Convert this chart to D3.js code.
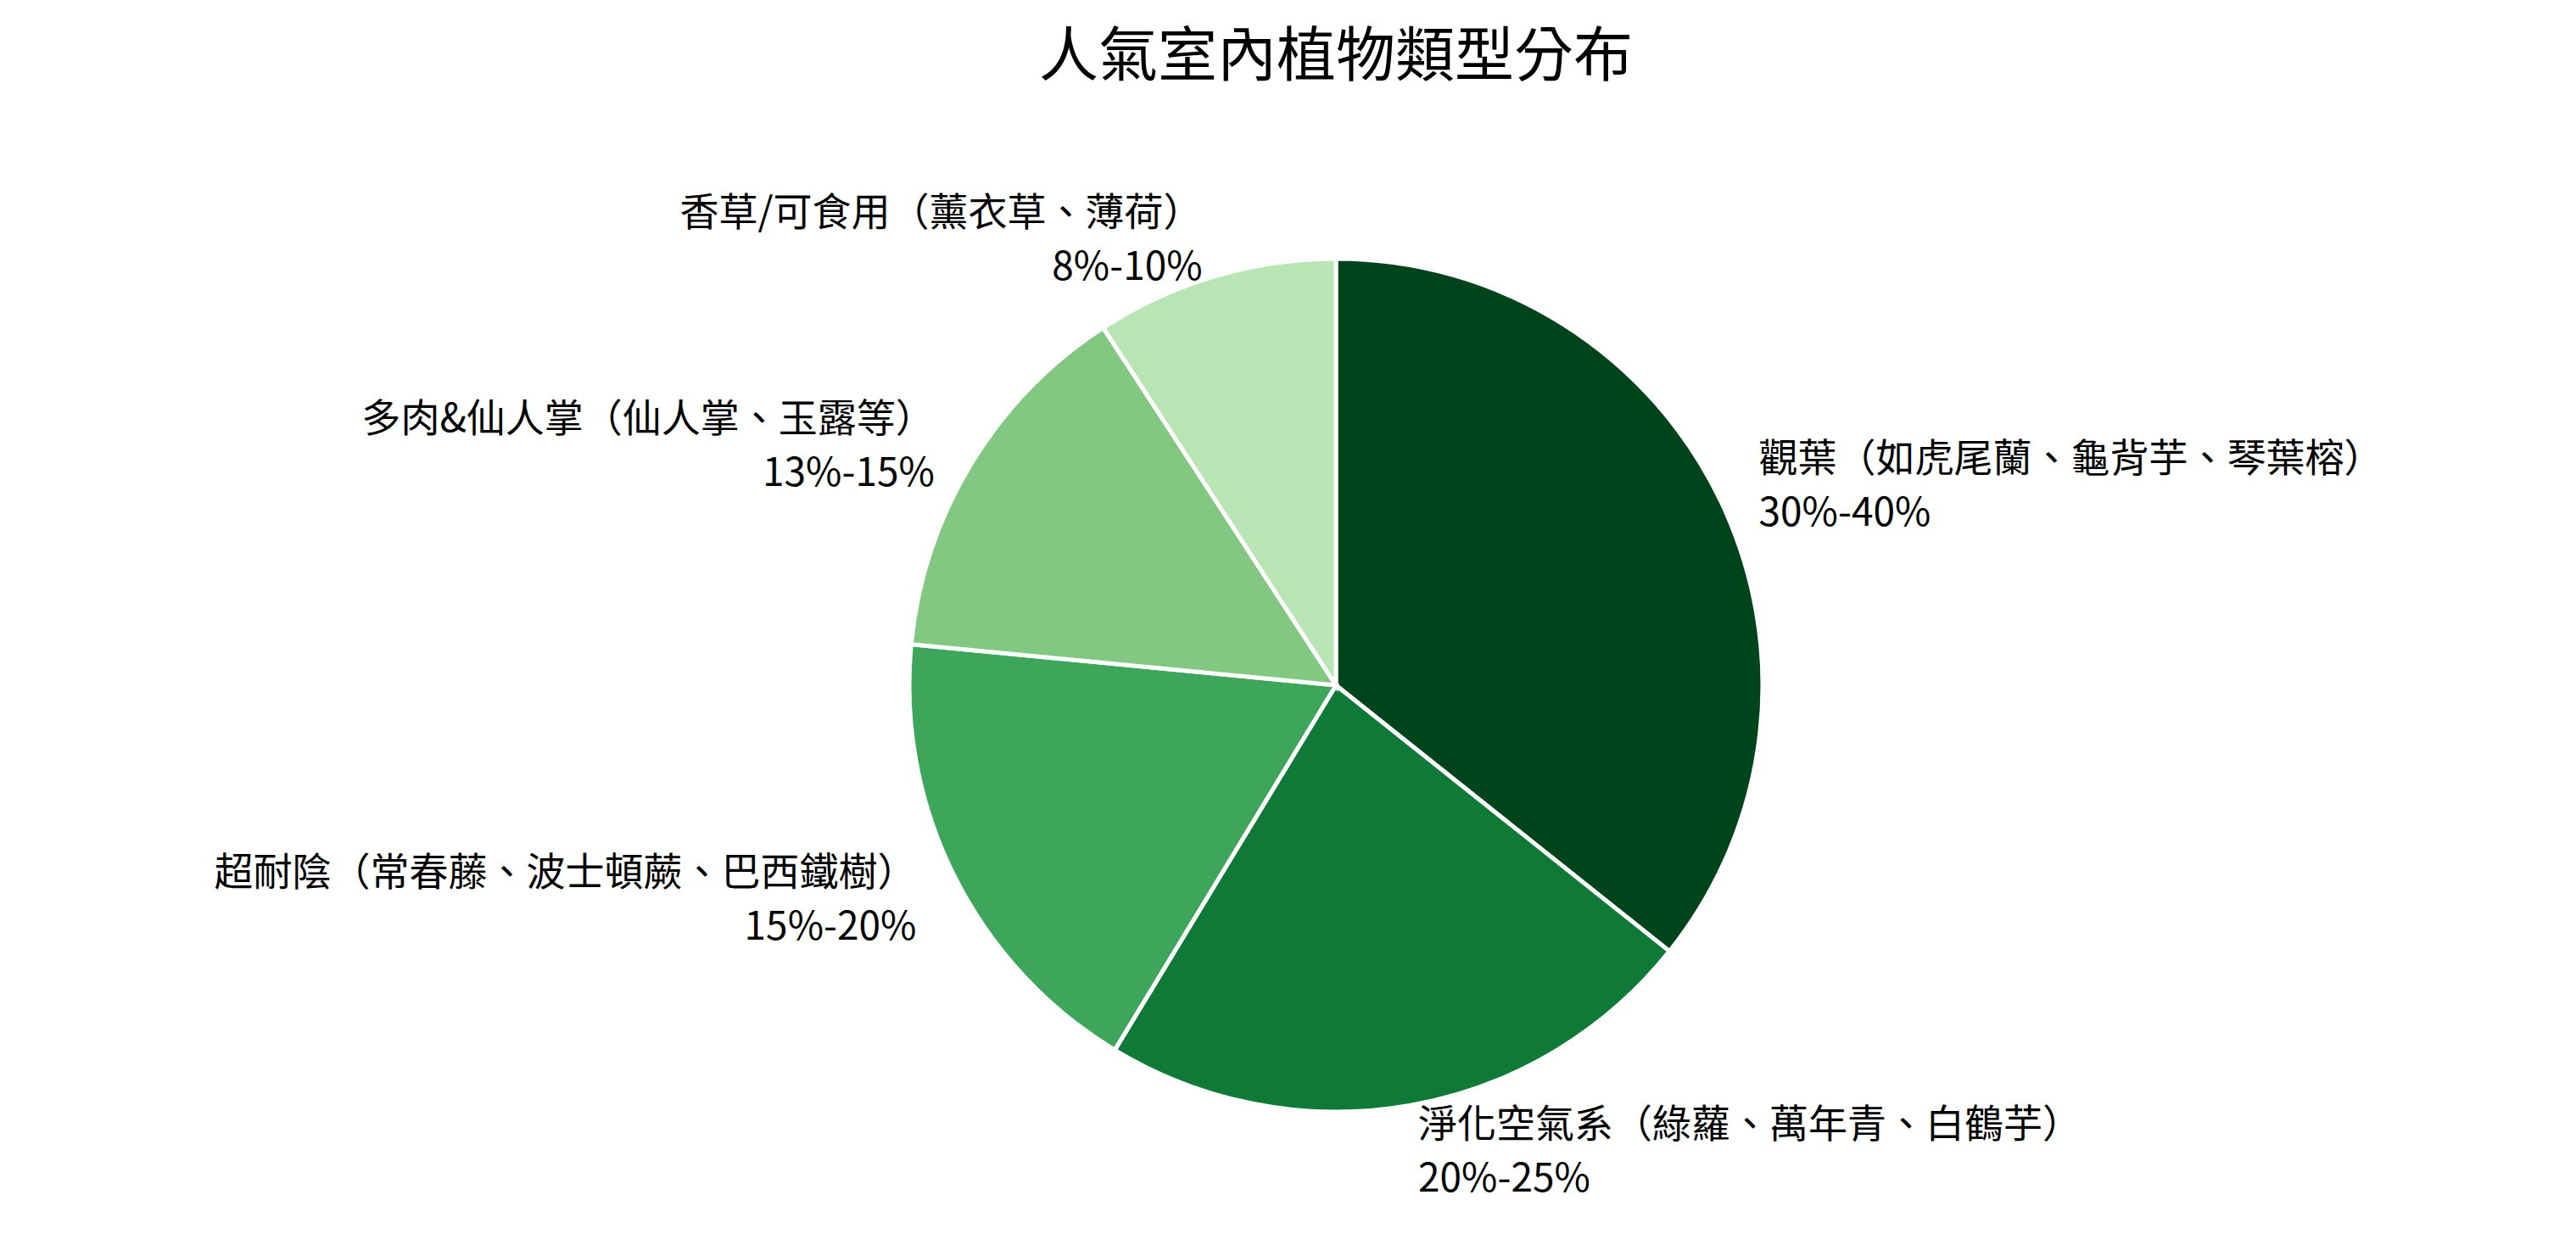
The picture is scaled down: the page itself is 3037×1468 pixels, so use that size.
<!DOCTYPE html>
<html><head><meta charset="utf-8">
<script src="https://cdn.jsdelivr.net/npm/d3@7"></script>
<style>body{margin:0;background:#fff}text{font-family:"Noto Sans CJK TC","Noto Sans CJK SC",sans-serif;fill:#000}</style>
</head><body><div id="chart"></div>
<script>
const labels = ["觀葉（如虎尾蘭、龜背芋、琴葉榕）","淨化空氣系（綠蘿、萬年青、白鶴芋）","超耐陰（常春藤、波士頓蕨、巴西鐵樹）","多肉&仙人掌（仙人掌、玉露等）","香草/可食用（薰衣草、薄荷）"];
const ranges = ["30%-40%","20%-25%","15%-20%","13%-15%","8%-10%"];
const values = [35, 22.5, 17.5, 14, 9];
const colors = ["#00441b","#0f7a37","#3ea65a","#82c882","#b9e4b3"];

const w = 3037, h = 1468, cx = 1575, cy = 808, r = 503;
const svg = d3.select("#chart").append("svg").attr("width", w).attr("height", h);
svg.append("text").attr("x", 1575).attr("y", 90).attr("text-anchor","middle")
  .attr("font-size", 70).text("人氣室內植物類型分布");

const pie = d3.pie().sort(null).value(d => d)(values);
const arc = d3.arc().innerRadius(0).outerRadius(r);
const g = svg.append("g").attr("transform", "translate(" + cx + "," + cy + ")");
g.selectAll("path").data(pie).enter().append("path")
  .attr("d", arc).attr("fill", (d,i) => colors[i])
  .attr("stroke", "#fff").attr("stroke-width", 5);

pie.forEach((d,i) => {
  const a = (d.startAngle + d.endAngle)/2;
  const x = Math.sin(a)*r*1.1, y = -Math.cos(a)*r*1.1;
  const t = g.append("text").attr("font-size", 46)
    .attr("text-anchor", x >= 0 ? "start" : "end");
  t.append("tspan").attr("x", x).attr("y", y - 12).text(labels[i]);
  t.append("tspan").attr("x", x).attr("y", y + 52).text(ranges[i]);
});
</script></body></html>
